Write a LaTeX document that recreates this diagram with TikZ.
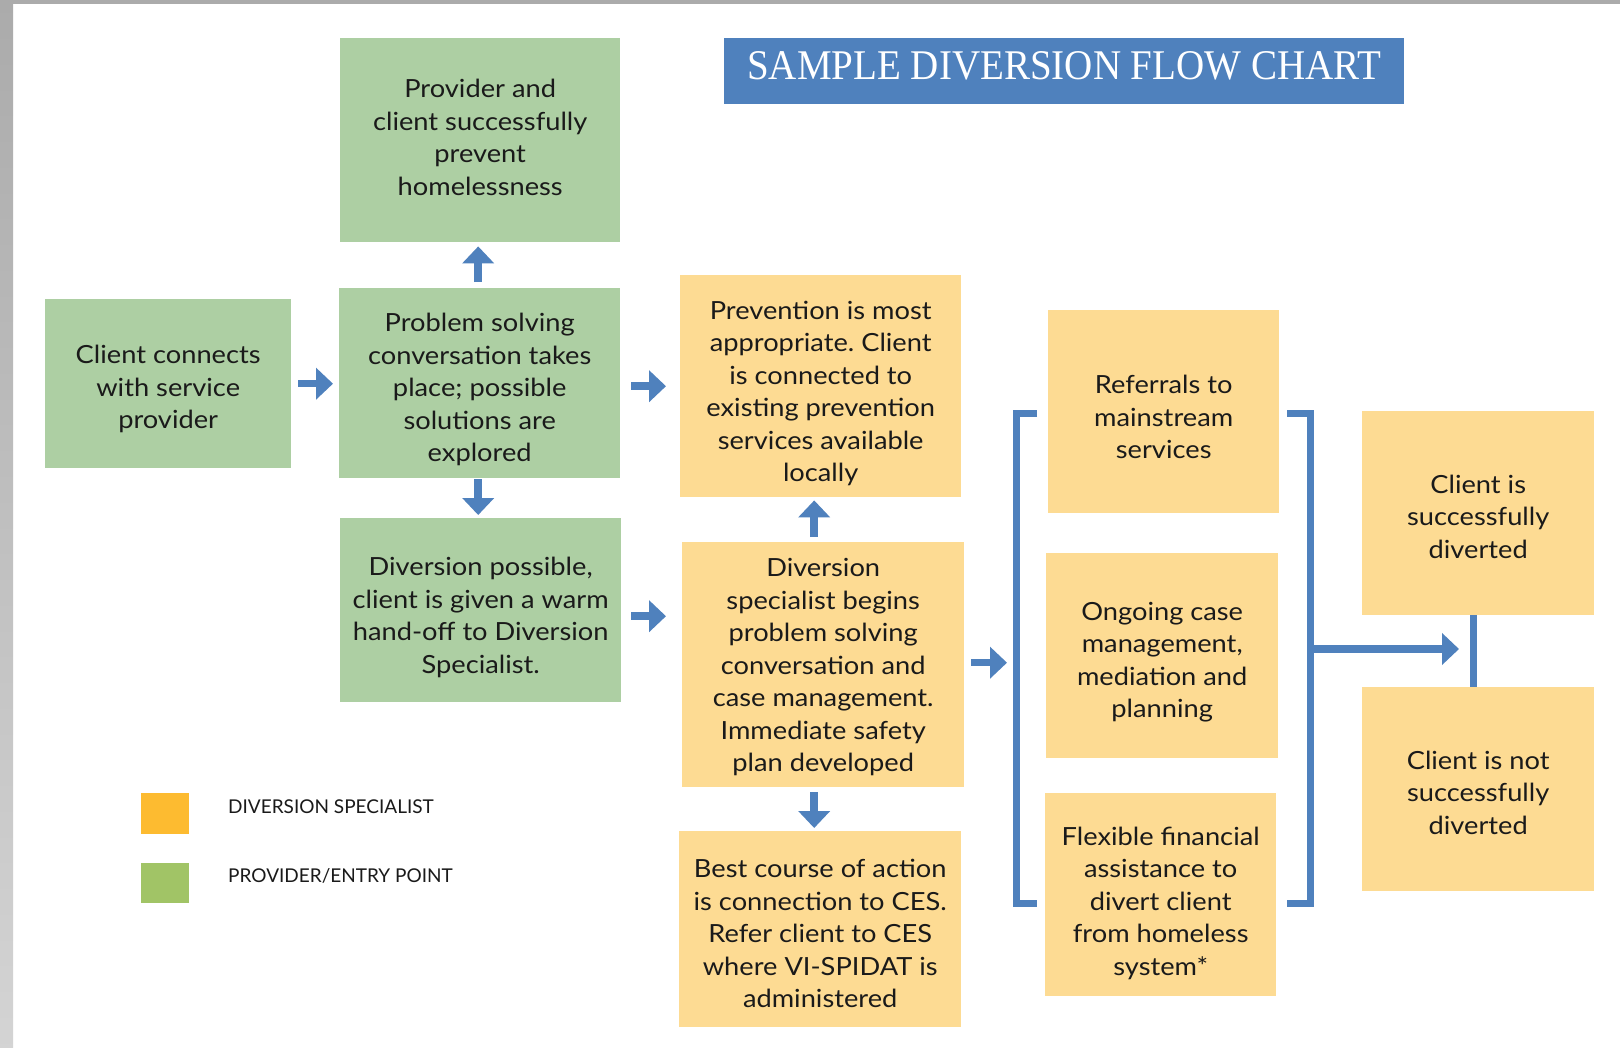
\documentclass[tikz,border=0pt]{standalone}
\usepackage{fontspec}
\usepackage{graphicx}
\setmainfont{Lato}
\newfontfamily\boxfont[FakeStretch=1.09]{Lato}
\newfontfamily\titlefont{Liberation Serif}
\usetikzlibrary{arrows.meta}
\definecolor{dblue}{HTML}{4F81BD}
\definecolor{gfill}{HTML}{ADCFA3}
\definecolor{ofill}{HTML}{FDDB93}
\definecolor{lorange}{HTML}{FDBB30}
\definecolor{lgreen}{HTML}{A1C466}
\definecolor{txt}{HTML}{1A1A1A}
\definecolor{edgegray}{HTML}{ABABAB}
\newcommand\bxtext[2]{\raisebox{-#1}[\height][\depth]{\begin{tabular}{@{}c@{}}#2\end{tabular}}}
\frenchspacing
\begin{document}
\begin{tikzpicture}[x=1pt,y=-1pt,
  box/.style={anchor=north west, inner sep=0pt, align=center, text=txt,
    font=\boxfont\fontsize{25}{32.5}\selectfont},
  gbox/.style={box, fill=gfill},
  obox/.style={box, fill=ofill},
  legsq/.style={anchor=north west, inner sep=0pt, minimum width=48pt},
  legtxt/.style={anchor=base west, inner sep=0pt, text=txt, font=\fontsize{19}{22}\selectfont},
  arr/.style={draw=dblue, line width=7.5pt, -{Triangle[length=17pt,width=31pt]}},
  brk/.style={draw=dblue, line width=7pt, line join=miter},
  vline/.style={draw=dblue, line width=7pt}]
\useasboundingbox (0,0) rectangle (1620,1047);
\fill[white] (0,0) rectangle (1620,1047);
\shade[top color=edgegray, bottom color=black!17] (0,0) rectangle (13,1047);
\fill[edgegray] (0,0) rectangle (1620,4);

% title
\node[anchor=north west, inner sep=0pt, fill=dblue, minimum width=680pt, minimum height=66pt,
  text=white, text depth=12pt] (title) at (724,38)
  {\resizebox{634pt}{28pt}{\titlefont SAMPLE DIVERSION FLOW CHART}};

% green boxes
\node[gbox, minimum width=280pt, minimum height=204pt] (provider) at (340,38)
  {\bxtext{0pt}{Provider and\\client successfully\\prevent\\homelessness}};
\node[gbox, minimum width=246pt, minimum height=169pt] (client) at (45,299)
  {\bxtext{6pt}{Client connects\\with service\\provider}};
\node[gbox, minimum width=281pt, minimum height=190pt] (problem) at (339,288)
  {\bxtext{7pt}{Problem solving\\conversation takes\\place; possible\\solutions are\\explored}};
\node[gbox, minimum width=281pt, minimum height=184pt] (divposs) at (340,518)
  {\bxtext{8pt}{Diversion possible,\\client is given a warm\\hand-off to Diversion\\Specialist.}};

% orange boxes
\node[obox, minimum width=281pt, minimum height=222pt] (prev) at (680,275)
  {\bxtext{8pt}{Prevention is most\\appropriate. Client\\is connected to\\existing prevention\\services available\\locally}};
\node[obox, minimum width=282pt, minimum height=245pt] (divspec) at (682,542)
  {\bxtext{3pt}{Diversion\\specialist begins\\problem solving\\conversation and\\case management.\\Immediate safety\\plan developed}};
\node[obox, minimum width=282pt, minimum height=196pt] (best) at (679,831)
  {\bxtext{7pt}{Best course of action\\is connection to CES.\\Refer client to CES\\where VI-SPIDAT is\\administered}};
\node[obox, minimum width=231pt, minimum height=203pt] (ref) at (1048,310)
  {\bxtext{8pt}{Referrals to\\mainstream\\services}};
\node[obox, minimum width=232pt, minimum height=205pt] (ongo) at (1046,553)
  {\bxtext{7pt}{Ongoing case\\management,\\mediation and\\planning}};
\node[obox, minimum width=231pt, minimum height=203pt] (flex) at (1045,793)
  {\bxtext{9pt}{Flexible financial\\assistance to\\divert client\\from homeless\\system*}};
\node[obox, minimum width=232pt, minimum height=204pt] (succ) at (1362,411)
  {\bxtext{6pt}{Client is\\successfully\\diverted}};
\node[obox, minimum width=232pt, minimum height=204pt] (notsucc) at (1362,687)
  {\bxtext{6pt}{Client is not\\successfully\\diverted}};

% legend
\node[legsq, fill=lorange, minimum height=41pt] (legO) at (141,793) {};
\node[legsq, fill=lgreen, minimum height=40pt] (legG) at (141,863) {};
\node[legtxt] (legOt) at (228,813) {DIVERSION SPECIALIST};
\node[legtxt] (legGt) at (228,882) {PROVIDER/ENTRY POINT};

% bracket coordinates
\coordinate (lbT) at (1037,413);
\coordinate (lbTc) at (1016,413);
\coordinate (lbBc) at (1016,903);
\coordinate (lbB) at (1037,903);
\coordinate (rbT) at (1287,413);
\coordinate (rbTc) at (1310,413);
\coordinate (rbBc) at (1310,903);
\coordinate (rbB) at (1287,903);
\coordinate (rbM) at (1310,649);
\coordinate (join) at (1473,649);

\draw[brk] (lbT) -- (lbTc) -- (lbBc) -- (lbB);
\draw[brk] (rbT) -- (rbTc) -- (rbBc) -- (rbB);

% arrows
\draw[arr, shorten <=7pt, shorten >=6pt] (client.east) -- (client.east -| problem.west);
\draw[arr, shorten <=11pt, shorten >=14pt] (problem.east |- prev.west) -- (prev.west);
\draw[arr, shorten <=6pt, shorten >=4pt] ([xshift=-1.5pt]problem.north) -- ([xshift=-1.5pt]problem.north |- provider.south);
\draw[arr, shorten <=1pt, shorten >=3pt] ([xshift=-1.5pt]problem.south) -- ([xshift=-1.5pt]problem.south |- divposs.north);
\draw[arr, shorten <=10pt, shorten >=16pt] ([yshift=-6pt]divposs.east) -- ([yshift=-6pt]divposs.east -| divspec.west);
\draw[arr, shorten <=5pt, shorten >=3pt] ([xshift=-9pt]divspec.north) -- ([xshift=-9pt]divspec.north |- prev.south);
\draw[arr, shorten <=5pt, shorten >=3pt] ([xshift=-9pt]divspec.south) -- ([xshift=-9pt]divspec.south |- best.north);
\draw[arr, shorten <=7pt, shorten >=9pt] ([yshift=2pt]divspec.east) -- ([yshift=2pt]divspec.east -| lbTc);
\draw[arr, shorten >=14pt] (rbM) -- (join);
\draw[vline] ([xshift=-5pt]succ.south) -- ([xshift=-5pt]notsucc.north);
\end{tikzpicture}
\end{document}
